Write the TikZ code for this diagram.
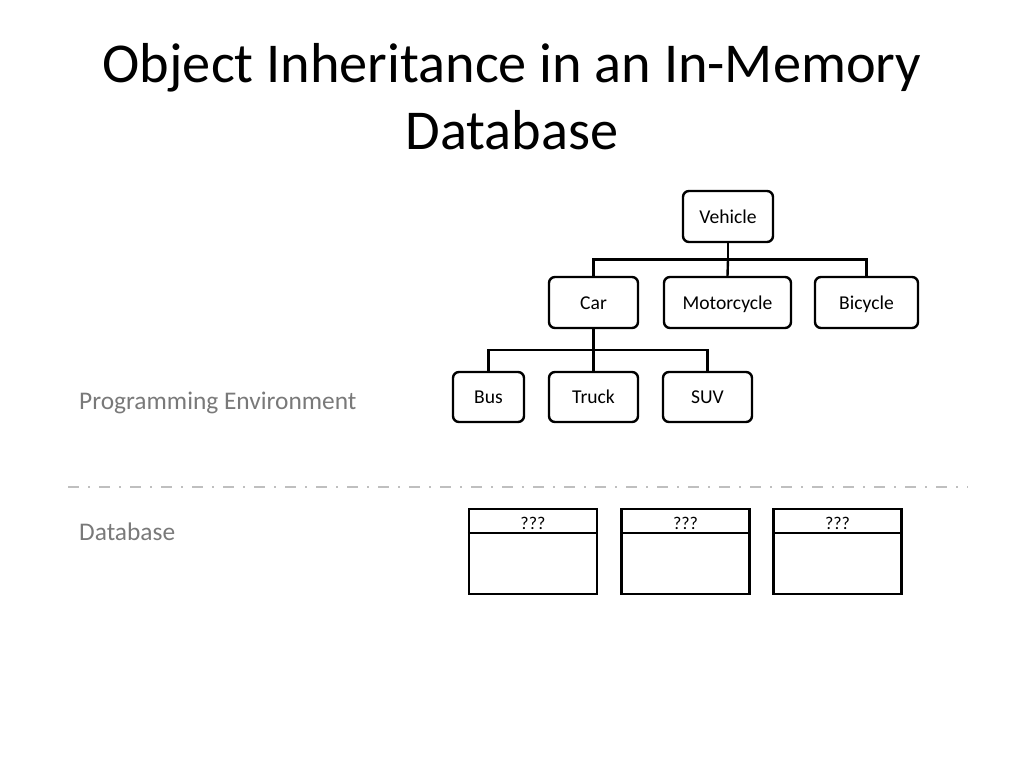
\documentclass[tikz,border=0pt]{standalone}
\usepackage{fontspec}
\setmainfont{Carlito}
\begin{document}
\begin{tikzpicture}[x=1pt,y=-1pt,
  cls/.style={draw=black,line width=2.4pt,rounded corners=6pt,inner sep=0pt,
    font=\fontsize{19.6}{23}\selectfont,minimum height=51pt,text height=15pt,text depth=2pt},
  link/.style={draw=black,line width=2.4pt},
  side/.style={text=gray!95!black,font=\fontsize{25.4}{30}\selectfont,anchor=west,inner sep=0pt},
  tbl/.style={draw=black,line width=2.4pt,inner sep=0pt,minimum width=128pt,minimum height=85pt},
  hdr/.style={inner sep=0pt,font=\fontsize{18}{21}\selectfont}
]
\useasboundingbox (0,0) rectangle (1024,768);
% title
\node[font=\fontsize{56.3}{67}\selectfont,align=center] (title) at (512,97)
  {Object Inheritance in an In-Memory\\Database};
% tree
\node[cls,minimum width=90pt] (veh) at (728,216.5) {Vehicle};
\node[cls,minimum width=89pt] (car) at (593.5,302.5) {Car};
\node[cls,minimum width=127pt] (moto) at (727.5,302.5) {Motorcycle};
\node[cls,minimum width=103pt] (bic) at (866.5,302.5) {Bicycle};
\node[cls,minimum width=71pt,minimum height=50pt] (bus) at (488.5,397) {Bus};
\node[cls,minimum width=89pt,minimum height=50pt] (truck) at (593.5,397) {Truck};
\node[cls,minimum width=89pt,minimum height=50pt] (suv) at (707.5,397) {SUV};
\coordinate (j1) at (728,259.5);
\coordinate (j2) at (593.5,350);
\draw[link] (veh.south) -- (j1);
\draw[link] (car.north) |- (j1) -| (bic.north);
\draw[link] (moto.north) -- (j1);
\draw[link] (car.south) -- (j2);
\draw[link] (bus.north) |- (j2) -| (suv.north);
\draw[link] (truck.north) -- (j2);
% side labels
\node[side] (pe) at (79,403) {Programming Environment};
\node[side] (db) at (79,532) {Database};
% separator
\coordinate (s1) at (68,487);
\coordinate (s2) at (968,487);
\draw[gray!50,line width=2.6pt,dash pattern=on 11pt off 9pt on 2pt off 9pt] (s1) -- (s2);
% database tables
\foreach \n/\cx in {t1/533,t2/685.5,t3/837.5}{
  \node[tbl] (\n) at (\cx,551.5) {};
  \draw[link] ([yshift=-25pt]\n.north west) -- ([yshift=-25pt]\n.north east);
  \node[hdr] (\n h) at (\cx,523) {???};
}
\end{tikzpicture}
\end{document}
